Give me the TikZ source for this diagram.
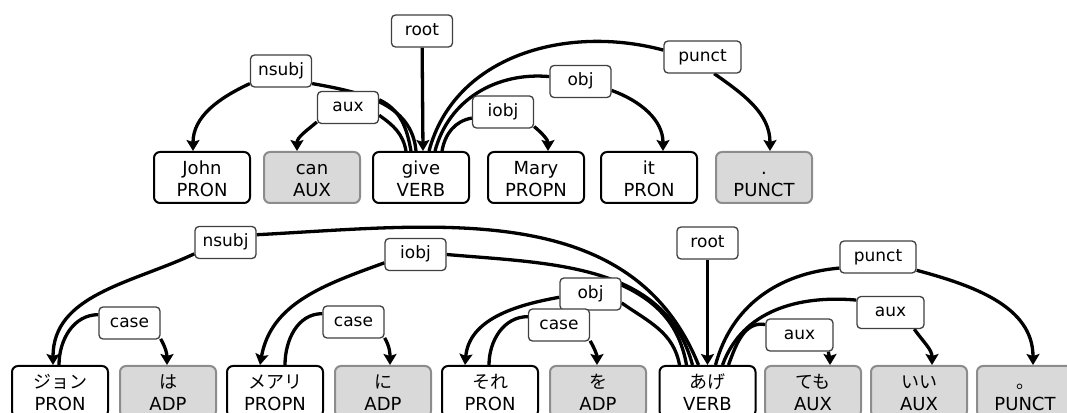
\documentclass[tikz,border=0pt]{standalone}
\usepackage{fontspec}
\setmainfont{DejaVu Sans}
\newfontfamily\jpfont{Noto Sans CJK JP}
\usetikzlibrary{arrows.meta,backgrounds}
\definecolor{tokfill}{HTML}{D9D9D9}
\definecolor{tokline}{HTML}{8C8C8C}
\definecolor{relline}{HTML}{404040}

\begin{document}
\begin{tikzpicture}[x=1pt,y=1pt,
  tok/.style={draw, line width=2pt, rounded corners=6pt, minimum width=96pt, minimum height=51pt,
    inner sep=0pt, align=center, font=\fontsize{18}{22}\selectfont},
  tokg/.style={tok, fill=tokfill, draw=tokline},
  rel/.style={draw=relline, line width=1.3pt, fill=white, rounded corners=4pt, minimum width=61pt,
    minimum height=32pt, inner sep=0pt, text height=12pt, text depth=3pt, font=\fontsize{17}{17}\selectfont},
  arc/.style={line width=3.3pt},
  dep/.style={arc, -{Stealth[length=11pt,width=13pt,inset=2pt]}}]
\useasboundingbox (0,0) rectangle (1067,412);
\clip (0,0) rectangle (1067,412);

% English sentence
\node[tok] (john) at (202,234.5) {\strut John\\PRON};
\node[tokg] (can) at (312,234.5) {\strut can\\AUX};
\node[tok] (give) at (421,234.5) {\strut give\\VERB};
\node[tok] (mary) at (536,234.5) {\strut Mary\\PROPN};
\node[tok] (it) at (649,234.5) {\strut it\\PRON};
\node[tokg] (dot) at (764,234.5) {\strut .\\PUNCT};

\node[rel] (troot) at (422,381) {root};
\node[rel] (tnsubj) at (281,341) {nsubj};
\node[rel] (taux) at (348,304.5) {aux};
\node[rel] (tiobj) at (503,300) {iobj};
\node[rel] (tobj) at (580.5,330.5) {obj};
\node[rel, minimum width=77pt] (tpunct) at (702.5,355) {punct};

% Japanese sentence
\node[tok] (j1) at (60,20.5) {\strut{\jpfont ジョン}\\PRON};
\node[tokg] (j2) at (168,20.5) {\strut{\jpfont は}\\ADP};
\node[tok] (j3) at (275,20.5) {\strut{\jpfont メアリ}\\PROPN};
\node[tokg] (j4) at (383,20.5) {\strut{\jpfont に}\\ADP};
\node[tok] (j5) at (490,20.5) {\strut{\jpfont それ}\\PRON};
\node[tokg] (j6) at (598,20.5) {\strut{\jpfont を}\\ADP};
\node[tok] (j7) at (707.5,20.5) {\strut{\jpfont あげ}\\VERB};
\node[tokg] (j8) at (813,20.5) {\strut{\jpfont ても}\\AUX};
\node[tokg] (j9) at (919,20.5) {\strut{\jpfont いい}\\AUX};
\node[tokg] (j10) at (1025,20.5) {\strut{\jpfont 。}\\PUNCT};

\node[rel] (jnsubj) at (225.5,169.5) {nsubj};
\node[rel] (jcase1) at (129.5,89) {case};
\node[rel] (jiobj) at (415.5,157.5) {iobj};
\node[rel] (jcase2) at (353.5,90) {case};
\node[rel] (jobj) at (590.5,118) {obj};
\node[rel] (jcase3) at (559,87) {case};
\node[rel] (jroot) at (707.5,169) {root};
\node[rel, minimum width=76pt] (jpunct) at (878,155) {punct};
\node[rel, minimum width=67pt] (jaux2) at (890.5,99.5) {aux};
\node[rel, minimum width=67pt] (jaux1) at (799.5,77) {aux};

\begin{pgfonlayer}{background}
% arcs above the English sentence
\draw[dep] (troot) -- ([xshift=2pt]give.north);
\draw[dep] (tnsubj.202) to[out=205, in=90] ([xshift=-9pt]john.north);
\draw[arc] (tnsubj.-22) to[out=-10, in=95] ([xshift=-5pt]give.north);
\draw[dep] (taux.205) to[out=220, in=90] ([xshift=-15pt]can.north);
\draw[arc] (taux.14) to[out=-25, in=100] ([xshift=-10pt]give.north);
\draw[arc] (taux.-14) to[out=-35, in=100] ([xshift=-15pt]give.north);
\draw[arc] (tiobj.191) to[out=190, in=80] ([xshift=21pt]give.north);
\draw[dep] (tiobj.-25) to[out=-40, in=90] ([xshift=12pt]mary.north);
\draw[arc] (tobj.171) to[out=175, in=75] ([xshift=14pt]give.north);
\draw[dep] (tobj.-16) to[out=-20, in=90] ([xshift=14pt]it.north);
\draw[arc] (tpunct.170) to[out=165, in=75] ([xshift=8pt]give.north);
\draw[dep] (tpunct.-55) to[out=-35, in=90] ([xshift=6pt]dot.north);

% arcs above the Japanese sentence
\draw[dep] (jroot) -- (j7.north);
\draw[dep] (jnsubj.200) to[out=205, in=90] ([xshift=-7pt]j1.north);
\draw[arc] (jnsubj.14) to[out=3, in=112] ([xshift=-9pt]j7.north);
\draw[arc] (jcase1.165) to[out=180, in=90] ([xshift=-1pt]j1.north);
\draw[dep] (jcase1.-27) to[out=-60, in=90] ([xshift=-1pt]j2.north);
\draw[dep] (jiobj.195) to[out=200, in=80] ([xshift=-15pt]j3.north);
\draw[arc] (jiobj.east) to[out=-5, in=105] ([xshift=-15pt]j7.north);
\draw[arc] (jcase2.165) to[out=180, in=90] ([xshift=10pt]j3.north);
\draw[dep] (jcase2.-27) to[out=-60, in=90] ([xshift=7pt]j4.north);
\draw[dep] (jobj.186) to[out=190, in=85] ([xshift=-25pt]j5.north);
\draw[arc] (jobj.16) to[out=-25, in=100] ([xshift=-21pt]j7.north);
\draw[arc] (jobj.-16) to[out=-35, in=100] ([xshift=-28pt]j7.north);
\draw[arc] (jcase3.165) to[out=180, in=90] ([xshift=-1pt]j5.north);
\draw[dep] (jcase3.-27) to[out=-60, in=90] ([xshift=-1pt]j6.north);
\draw[arc] (jpunct.196) to[out=185, in=75] ([xshift=8pt]j7.north);
\draw[dep] (jpunct.-19) to[out=-15, in=90] ([xshift=8pt]j10.north);
\draw[arc] (jaux2.160) to[out=175, in=70] ([xshift=15pt]j7.north);
\draw[dep] (jaux2.-35) to[out=-55, in=90] ([xshift=13pt]j9.north);
\draw[arc] (jaux1.163) to[out=170, in=70] ([xshift=21pt]j7.north);
\draw[dep] (jaux1.-30) to[out=-80, in=90] ([xshift=17pt]j8.north);
\end{pgfonlayer}
\end{tikzpicture}
\end{document}
